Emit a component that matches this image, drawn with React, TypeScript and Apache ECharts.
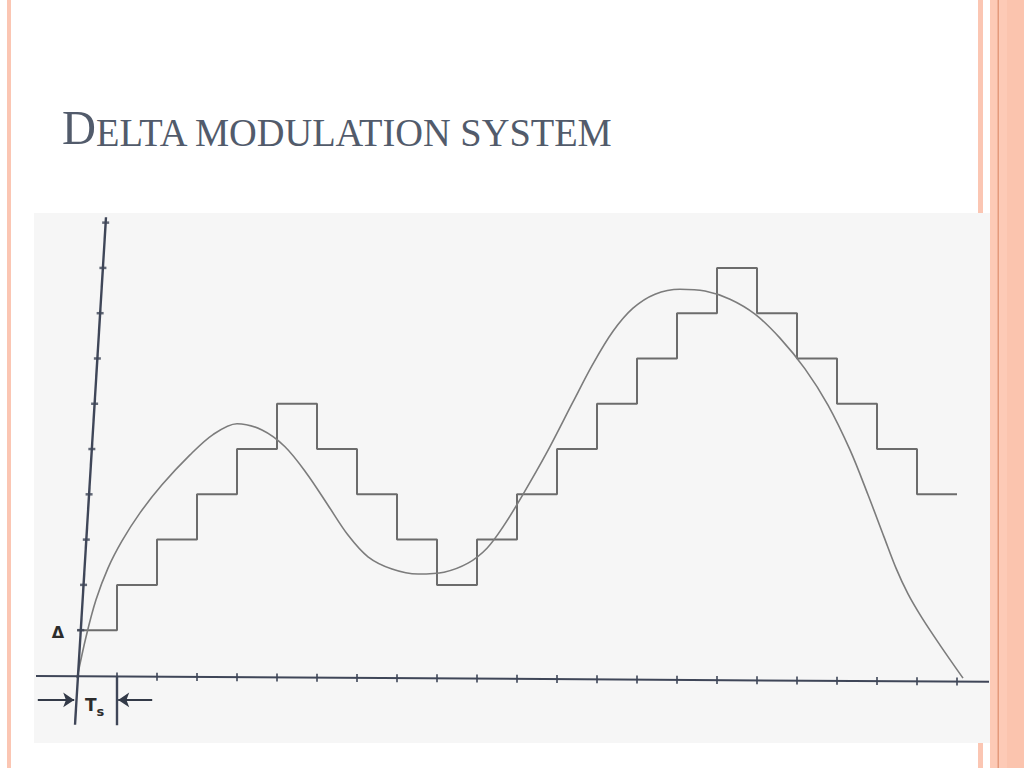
import React, { useEffect, useRef } from "react";
import * as echarts from "echarts";

// Staircase levels (units of Δ) held over each sampling interval [k, k+1] (units of Ts)
const stairLevels = [1, 2, 3, 4, 5, 6, 5, 4, 3, 2, 3, 4, 5, 6, 7, 8, 9, 8, 7, 6, 5, 4];

// Analog message signal (x in Ts, y in Δ)
const signalX = [0, 0.225, 0.475, 0.775, 1.125, 1.575, 2.125, 2.825, 3.4, 4.0, 4.625, 5.2, 5.75, 6.275, 6.775, 7.275, 7.875, 8.525, 9.175, 9.775, 10.25, 10.65, 11.125, 11.75, 12.4, 12.9, 13.4, 13.9, 14.45, 15.075, 15.7, 16.325, 16.95, 17.575, 18.2, 18.775, 19.325, 19.775, 20.175, 20.475, 20.775, 21.125, 21.575, 22.15];
const signalY = [-0.06, 0.85, 1.67, 2.37, 2.97, 3.59, 4.21, 4.87, 5.32, 5.56, 5.42, 5.05, 4.45, 3.76, 3.1, 2.62, 2.35, 2.24, 2.28, 2.48, 2.81, 3.28, 3.96, 4.93, 6.04, 6.88, 7.6, 8.11, 8.42, 8.53, 8.49, 8.31, 7.98, 7.45, 6.77, 5.97, 4.98, 3.99, 3.06, 2.37, 1.8, 1.27, 0.67, -0.06];

// Hand-drawn (slightly tilted) axes: end points in data units
const timeAxisEnds = [[-1.05, -0.01], [22.8, -0.14]];
const levelAxisEnds = [[-0.05, -1.09], [0.725, 10.12]];
const timeTicks = [1, 2, 3, 4, 5, 6, 7, 8, 9, 10, 11, 12, 13, 14, 15, 16, 17, 18, 19, 20, 21, 22];
const levelTicks = [1, 2, 3, 4, 5, 6, 7, 8, 9, 10];

// Ts marker: second boundary line and the two arrows
const tsMarkerX = 1;
const tsMarkerBottom = -1.1;
const arrowLevel = -0.54;
const arrowLeft = [-0.98, -0.07];
const arrowRight = [1.88, 1.03];

const AXIS = "#3f4658";

function timeAxisY(x: number) {
  const [a, b] = timeAxisEnds;
  return a[1] + ((x - a[0]) / (b[0] - a[0])) * (b[1] - a[1]);
}
function levelAxisX(y: number) {
  const [a, b] = levelAxisEnds;
  return a[0] + ((y - a[1]) / (b[1] - a[1])) * (b[0] - a[0]);
}

export default function App() {
  const ref = useRef<HTMLDivElement>(null);
  useEffect(() => {
    if (!ref.current) return;
    const chart = echarts.init(ref.current, undefined, { renderer: "svg" });
    const stairData = stairLevels.map((v, k) => [k, v]);
    stairData.push([stairLevels.length, stairLevels[stairLevels.length - 1]]);
    const signalData = signalX.map((x, i) => [x, signalY[i]]);

    chart.setOption({
      animation: false,
      backgroundColor: "#ffffff",
      grid: { left: 37, right: 27, top: 200, bottom: 2 },
      xAxis: { type: "value", min: -1, max: 23, show: false },
      yAxis: { type: "value", min: -2, max: 10.5, show: false },
      graphic: [
        { type: "rect", z: -20, shape: { x: 7, y: 0, width: 4, height: 768 }, style: { fill: "#fbc6b3" } },
        { type: "rect", z: -20, shape: { x: 978, y: 0, width: 5, height: 768 }, style: { fill: "#fbc6b3" } },
        { type: "rect", z: -20, shape: { x: 990, y: 0, width: 34, height: 768 }, style: { fill: "#fdcab6" } },
        { type: "rect", z: -19, shape: { x: 1007, y: 0, width: 17, height: 768 }, style: { fill: "#fbc4ae" } },
        { type: "rect", z: -19, shape: { x: 997.5, y: 0, width: 1.5, height: 768 }, style: { fill: "#e49a7c" } },
        { type: "rect", z: -18, shape: { x: 34, y: 213, width: 956, height: 530 }, style: { fill: "#f6f6f6" } },
        {
          type: "text",
          z: 10,
          x: 62,
          y: 96,
          scaleX: 0.96,
          style: {
            text: "{a|D}{b|ELTA MODULATION SYSTEM}",
            fill: "#525b6b",
            rich: {
              a: { fontFamily: "Liberation Serif", fontSize: 49, fill: "#525b6b", verticalAlign: "bottom", lineHeight: 56 },
              b: { fontFamily: "Liberation Serif", fontSize: 40, fill: "#525b6b", verticalAlign: "bottom", lineHeight: 56 },
            },
          },
        },
        {
          type: "text",
          z: 10,
          x: 58,
          y: 632,
          style: { text: "Δ", fontFamily: "DejaVu Sans", fontSize: 16, fontWeight: "bold", fill: "#2c2c2c", align: "center", verticalAlign: "middle" },
        },
        {
          type: "text",
          z: 10,
          x: 85,
          y: 696,
          style: {
            text: "{t|T}{s|s}",
            rich: {
              t: { fontFamily: "DejaVu Sans", fontSize: 17, fontWeight: "bold", fill: "#2c2c2c", lineHeight: 22, verticalAlign: "top" },
              s: { fontFamily: "DejaVu Sans", fontSize: 13, fontWeight: "bold", fill: "#2c2c2c", lineHeight: 13, padding: [9, 0, 0, 0], verticalAlign: "top" },
            },
          },
        },
      ],
      series: [
        {
          name: "staircase",
          type: "line",
          step: "end",
          data: stairData,
          showSymbol: false,
          lineStyle: { color: "#6c6c6c", width: 2 },
          z: 3,
        },
        {
          name: "signal",
          type: "line",
          smooth: 0.33,
          data: signalData,
          showSymbol: false,
          lineStyle: { color: "#7c7c7c", width: 1.6 },
          z: 4,
        },
        {
          name: "timeAxis",
          type: "line",
          data: timeAxisEnds,
          showSymbol: false,
          lineStyle: { color: AXIS, width: 2 },
          z: 5,
        },
        {
          name: "levelAxis",
          type: "line",
          data: levelAxisEnds,
          showSymbol: false,
          lineStyle: { color: AXIS, width: 2.4 },
          z: 5,
        },
        {
          name: "timeTicks",
          type: "scatter",
          data: timeTicks.map((k) => [k, timeAxisY(k)]),
          symbol: "rect",
          symbolSize: [2, 8],
          itemStyle: { color: AXIS },
          z: 6,
        },
        {
          name: "levelTicks",
          type: "scatter",
          data: levelTicks.map((n) => [levelAxisX(n), n]),
          symbol: "rect",
          symbolSize: [7, 2.5],
          itemStyle: { color: AXIS },
          z: 6,
        },
        {
          name: "tsMarker",
          type: "line",
          data: [
            [tsMarkerX, timeAxisY(tsMarkerX)],
            [tsMarkerX, tsMarkerBottom],
          ],
          showSymbol: false,
          lineStyle: { color: AXIS, width: 2.4 },
          z: 5,
        },
        {
          name: "tsArrows",
          type: "lines",
          coordinateSystem: "cartesian2d",
          symbol: ["none", "arrow"],
          symbolSize: 11,
          lineStyle: { color: "#333a48", width: 1.8, opacity: 1 },
          data: [
            { coords: [[arrowLeft[0], arrowLevel], [arrowLeft[1], arrowLevel]] },
            { coords: [[arrowRight[0], arrowLevel], [arrowRight[1], arrowLevel]] },
          ],
          z: 6,
        },
      ],
    });
    return () => chart.dispose();
  }, []);
  return <div ref={ref} style={{ position: "absolute", left: 0, top: 0, width: 1024, height: 768 }} />;
}
